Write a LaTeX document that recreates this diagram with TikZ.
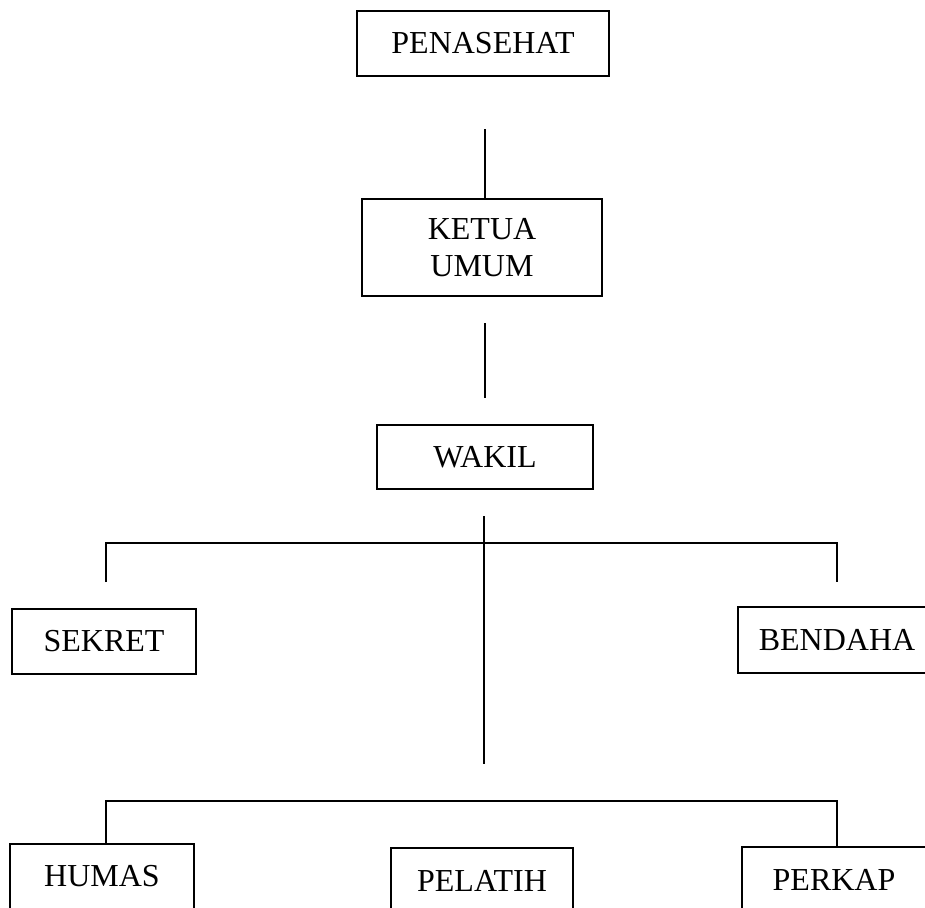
\documentclass[tikz,border=0pt]{standalone}
\usepackage{fontspec}
\setmainfont{Liberation Serif}
\usetikzlibrary{positioning}
\tikzset{
  jabatan/.style={draw, rectangle, line width=1pt, inner sep=0pt, align=center,
    font=\fontsize{16}{18.5}\selectfont},
  garis/.style={line width=1pt}
}

\begin{document}
\begin{tikzpicture}[x=0.5pt, y=-0.5pt]
\useasboundingbox (0,0) rectangle (925,907);
\clip (0,0) rectangle (925,907);
% --- Kotak pengurus ---
\node[jabatan, minimum width=126pt, minimum height=32.5pt] (penasehat) at (483,43.5) {PENASEHAT};
\node[jabatan, minimum width=120pt, minimum height=48.5pt] (ketua) at (482,247.5) {KETUA\\UMUM};
\node[jabatan, minimum width=108pt, minimum height=32pt] (wakil) at (485,457) {WAKIL};
\node[jabatan, minimum width=92pt, minimum height=32.5pt] (sekret) at (104,641.5) {SEKRET};
\node[jabatan, minimum width=99pt, minimum height=33pt] (bendaha) at (837,640) {BENDAHA};
\node[jabatan, minimum width=92pt, minimum height=32.5pt] (humas) at (102,876.5) {HUMAS};
\node[jabatan, minimum width=91pt, minimum height=32.5pt] (pelatih) at (482,880.5) {PELATIH};
\node[jabatan, minimum width=92pt, minimum height=32.5pt] (perkap) at (834,879.5) {PERKAP};
% --- Garis penghubung ---
\coordinate (a1) at (485,129);
\draw[garis] (a1) -- (a1 |- ketua.north);
\coordinate (a2) at (485,323);
\coordinate (a3) at (485,398);
\draw[garis] (a2) -- (a3);
\coordinate (b1) at (484,516);
\coordinate (b2) at (484,764);
\draw[garis] (b1) -- (b2);
% cabang atas
\coordinate (kiri1) at (106,543);
\coordinate (kanan1) at (837,543);
\coordinate (kiri1b) at (106,582);
\coordinate (kanan1b) at (837,582);
\draw[garis] (kiri1b) -- (kiri1) -- (kanan1) -- (kanan1b);
% cabang bawah
\coordinate (kiri2) at (106,801);
\coordinate (kanan2) at (837,801);
\draw[garis] (humas.north -| kiri2) -- (kiri2) -- (kanan2) -- (perkap.north -| kanan2);
\end{tikzpicture}
\end{document}
